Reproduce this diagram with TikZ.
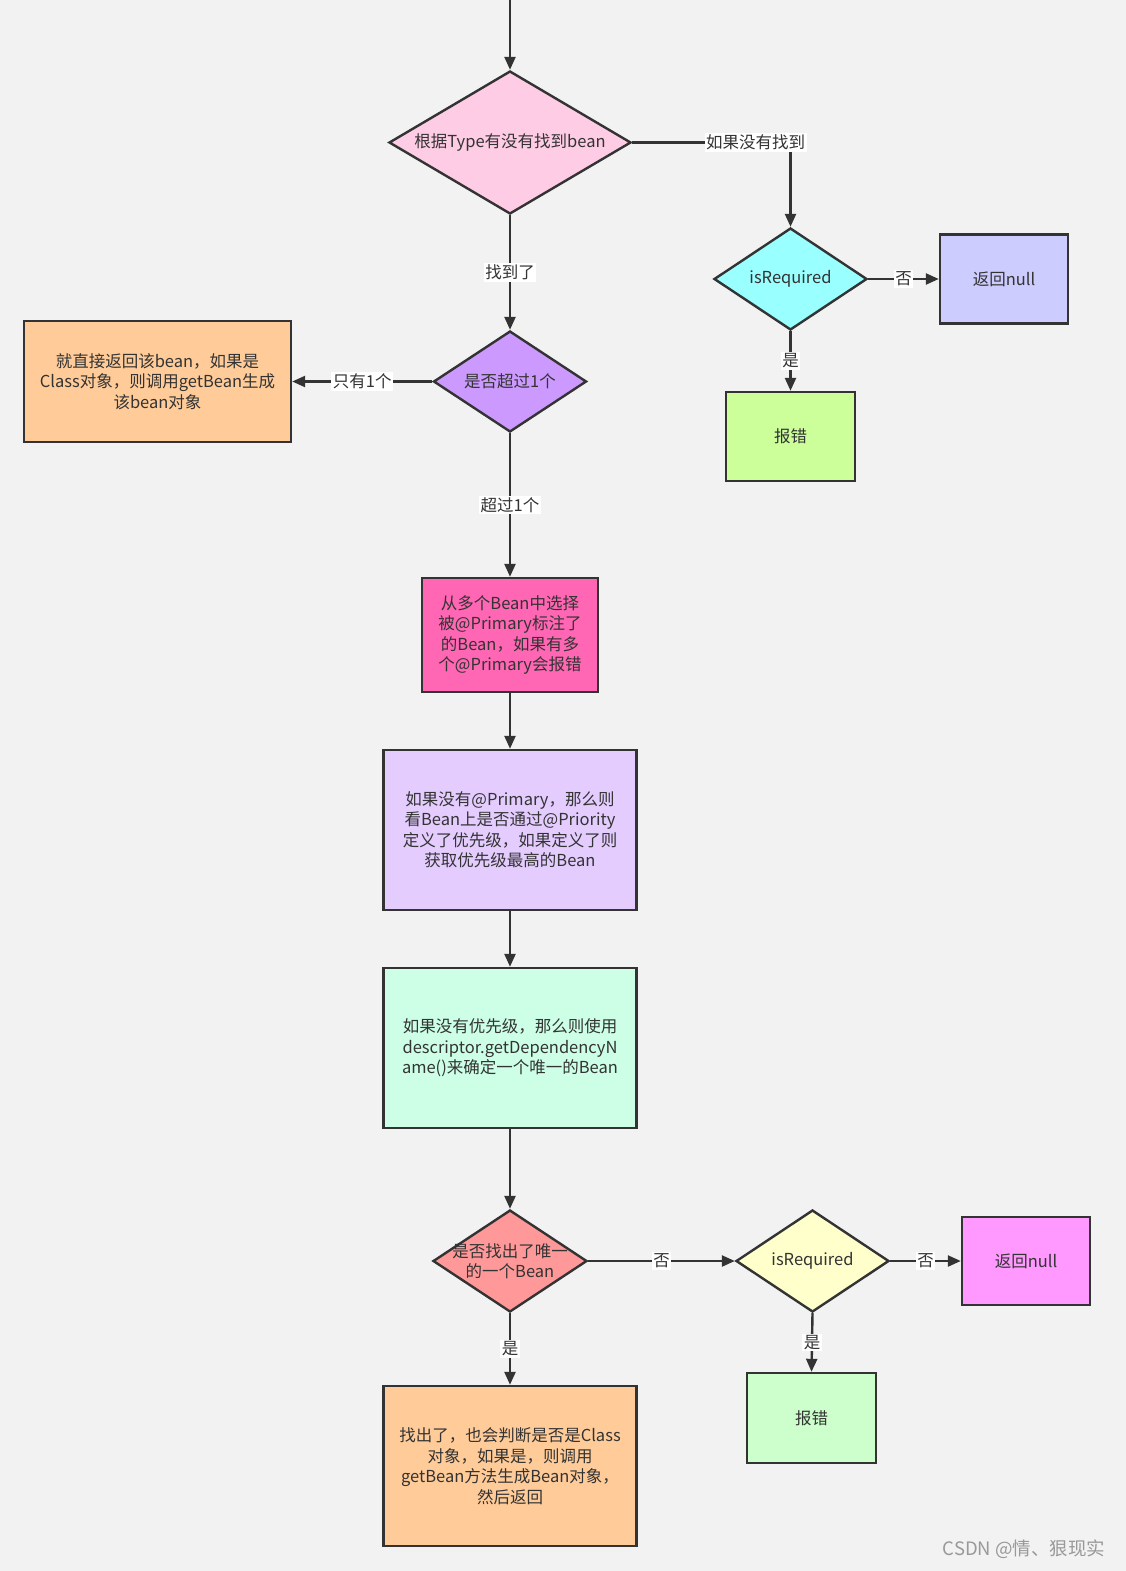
\documentclass[tikz,border=0pt]{standalone}
\usepackage{fontspec}
\newfontfamily\cjk{Noto Sans CJK SC}
\usepackage{xcolor}
\usetikzlibrary{positioning, arrows.meta, shapes.geometric}

\definecolor{bgc}{HTML}{F2F2F2}
\definecolor{ink}{HTML}{333333}
\definecolor{cpink}{HTML}{FFCCE6}
\definecolor{ccyan}{HTML}{99FFFF}
\definecolor{clav}{HTML}{CCCCFF}
\definecolor{clime}{HTML}{CCFF99}
\definecolor{cviolet}{HTML}{CC99FF}
\definecolor{cpeach}{HTML}{FFCC99}
\definecolor{chot}{HTML}{FF66B3}
\definecolor{clilac}{HTML}{E5CCFF}
\definecolor{cmint}{HTML}{CCFFE6}
\definecolor{csalmon}{HTML}{FF9999}
\definecolor{ccream}{HTML}{FFFFCC}
\definecolor{cmagenta}{HTML}{FF99FF}
\definecolor{cgreen}{HTML}{CCFFCC}

\begin{document}
\begin{tikzpicture}[x=1pt, y=-1pt,
    txt/.style={font=\cjk\fontsize{16.5}{20.5}\selectfont, text=ink},
    box/.style={rectangle, draw=ink, line width=2.4pt, txt, align=center, inner sep=0pt},
    dec/.style={diamond, draw=ink, line width=2.4pt, inner sep=0pt},
    flow/.style={-{Triangle[length=13pt,width=11pt]}, draw=ink, line width=2.4pt},
    lbl/.style={fill=white, txt, inner sep=1.5pt}
]
\path[use as bounding box, fill=bgc] (0,0) rectangle (1126,1571);

\coordinate (top) at (510,0);
\node[dec, fill=cpink, minimum width=242pt, minimum height=143pt,
      label={[txt]center:根据Type有没有找到bean}] (d1) at (510,142.5) {};
\node[dec, fill=ccyan, minimum width=153pt, minimum height=102pt,
      label={[txt]center:isRequired}] (d2) at (790.5,279) {};
\node[box, fill=clav, minimum width=128pt, minimum height=89pt] (n1) at (1004,279) {返回null};
\node[box, fill=clime, minimum width=129pt, minimum height=89pt] (e1) at (790.5,436.5) {报错};
\node[dec, fill=cviolet, minimum width=153pt, minimum height=101pt,
      label={[txt]center:是否超过1个}] (d3) at (510,381.5) {};
\node[box, fill=cpeach, minimum width=267pt, minimum height=121pt] (b1) at (157.5,381.5)
    {就直接返回该bean，如果是\\Class对象，则调用getBean生成\\该bean对象};
\node[box, fill=chot, minimum width=176pt, minimum height=114pt] (p1) at (510,635)
    {从多个Bean中选择\\被@Primary标注了\\的Bean，如果有多\\个@Primary会报错};
\node[box, fill=clilac, minimum width=253pt, minimum height=160pt] (p2) at (510,830)
    {如果没有@Primary，那么则\\看Bean上是否通过@Priority\\定义了优先级，如果定义了则\\获取优先级最高的Bean};
\node[box, fill=cmint, minimum width=253pt, minimum height=160pt] (p3) at (510,1048)
    {如果没有优先级，那么则使用\\descriptor.getDependencyN\\ame()来确定一个唯一的Bean};
\node[dec, fill=csalmon, minimum width=154pt, minimum height=102pt,
      label={[txt, align=center]center:是否找出了唯一\\的一个Bean}] (d4) at (510,1261) {};
\node[dec, fill=ccream, minimum width=153pt, minimum height=102pt,
      label={[txt]center:isRequired}] (d5) at (812.5,1261) {};
\node[box, fill=cmagenta, minimum width=128pt, minimum height=88pt] (n2) at (1026,1261) {返回null};
\node[box, fill=cgreen, minimum width=129pt, minimum height=90pt] (e2) at (811.5,1418) {报错};
\node[box, fill=cpeach, minimum width=253pt, minimum height=160pt] (f1) at (510,1466)
    {找出了，也会判断是否是Class\\对象，如果是，则调用\\getBean方法生成Bean对象，\\然后返回};

\draw[flow] (top) -- (d1.north);
\draw[flow] (d1.east) -| node[lbl, pos=0.39] {如果没有找到} (d2.north);
\draw[flow] (d2.east) -- node[lbl] {否} (n1.west);
\draw[flow] (d2.south) -- node[lbl] {是} (e1.north);
\draw[flow] (d1.south) -- node[lbl] {找到了} (d3.north);
\draw[flow] (d3.west) -- node[lbl] {只有1个} (b1.east);
\draw[flow] (d3.south) -- node[lbl] {超过1个} (p1.north);
\draw[flow] (p1) -- (p2);
\draw[flow] (p2) -- (p3);
\draw[flow] (p3.south) -- (d4.north);
\draw[flow] (d4.east) -- node[lbl] {否} (d5.west);
\draw[flow] (d5.east) -- node[lbl] {否} (n2.west);
\draw[flow] (d5.south) -- node[lbl] {是} (e2.north);
\draw[flow] (d4.south) -- node[lbl] {是} (f1.north);

\node[font=\cjk\fontsize{18.5}{22}\selectfont, text=black!40, anchor=east] (wm) at (1109,1549) {CSDN @情、狠现实};
\end{tikzpicture}
\end{document}
